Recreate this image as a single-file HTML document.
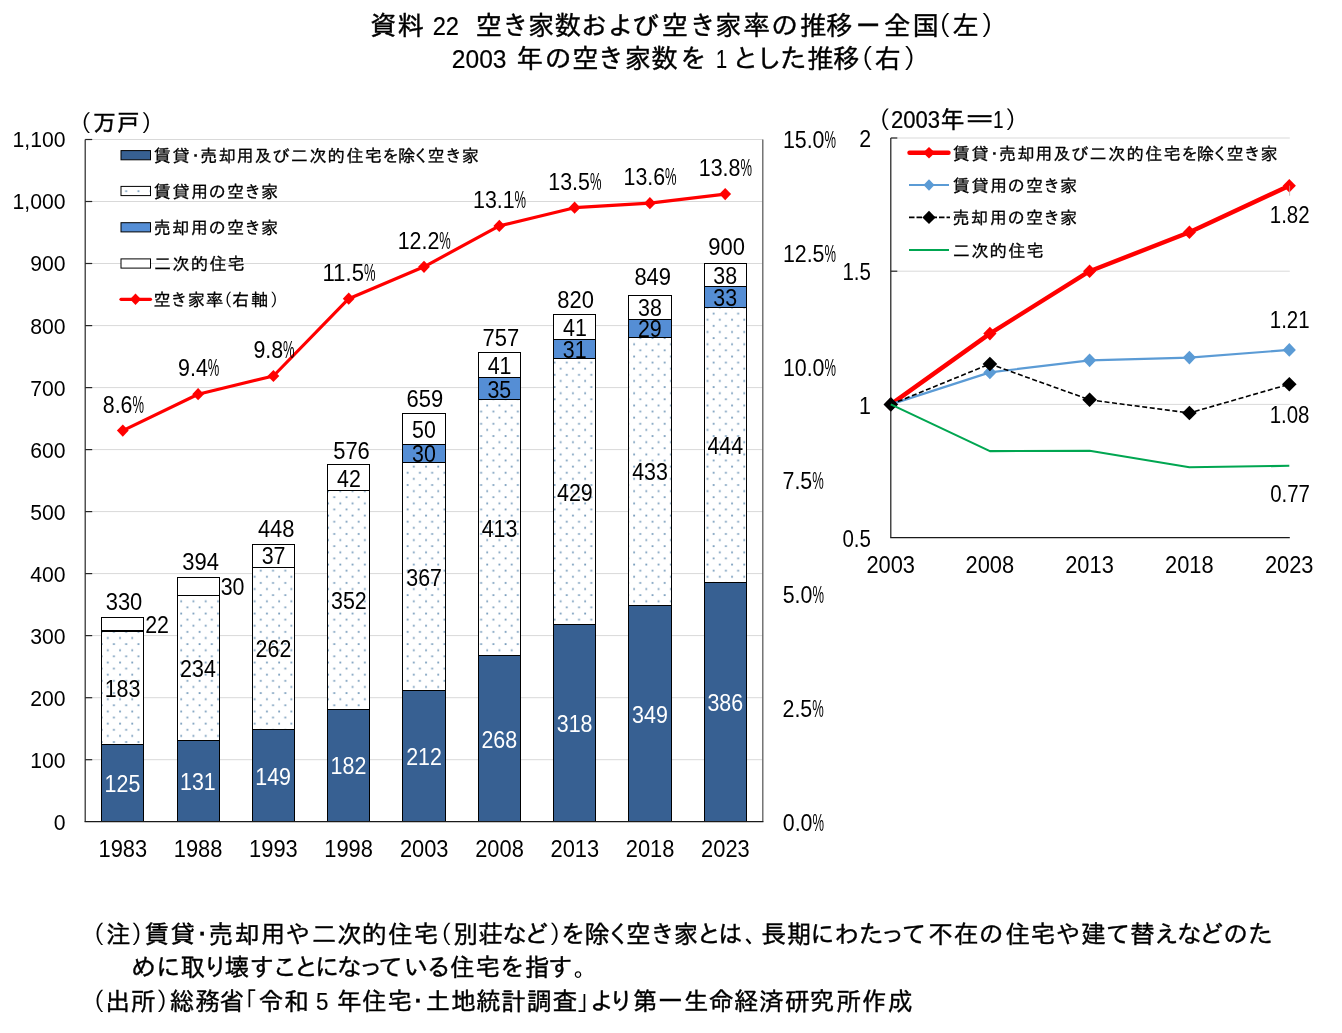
<!DOCTYPE html>
<html lang="ja"><head><meta charset="utf-8"><title>空き家数および空き家率の推移</title>
<style>html,body{margin:0;padding:0;background:#fff;overflow:hidden}svg{display:block}</style></head>
<body>
<svg width="1342" height="1033" viewBox="0 0 1342 1033" font-family='"Liberation Sans", "IPAGothic", "Noto Sans CJK JP", sans-serif' font-size="23">
<defs><pattern id="dots" width="12.24" height="12.24" patternUnits="userSpaceOnUse" x="8.83" y="0.02"><rect width="12.24" height="12.24" fill="#fff"/><rect x="0.15" y="0.6" width="1.8" height="1.8" fill="#7a9ebd"/><rect x="6.27" y="6.72" width="1.8" height="1.8" fill="#7a9ebd"/></pattern></defs>
<rect width="1342" height="1033" fill="#fff"/>
<g id="title">
<text y="34.7" font-size="26.7" stroke="#000" stroke-width="0.4"><tspan x="370 397.2">資料</tspan> <tspan x="432.7" font-size="25.5" stroke-width="0.20" textLength="26.3" lengthAdjust="spacingAndGlyphs">22</tspan> <tspan x="475.4 502 527.8 554.6 580.7 607.6 632.3 661.4 689.3 714.9 743.6 770.9 799.7 826">空き家数および空き家率の推移</tspan><tspan x="854.1" textLength="28.6" lengthAdjust="spacingAndGlyphs">－</tspan><tspan x="884.1 912.3">全国</tspan><tspan x="924.8" stroke="none">（</tspan><tspan x="952.5">左</tspan><tspan x="980.8" stroke="none">）</tspan></text>
<text y="67.6" font-size="26.7" stroke="#000" stroke-width="0.4"><tspan x="451.8" font-size="25.5" stroke-width="0.20" textLength="54.7" lengthAdjust="spacingAndGlyphs">2003</tspan> <tspan x="516.3 544.5 572 597.5 624.4 651.2 679.7">年の空き家数を</tspan> <tspan x="715.9" font-size="25.5" stroke-width="0.20" textLength="11.1" lengthAdjust="spacingAndGlyphs">1</tspan> <tspan x="732.3 755.6 780 806.9 833.1">とした推移</tspan><tspan x="847.3" stroke="none">（</tspan><tspan x="874.4">右</tspan><tspan x="903.3" stroke="none">）</tspan></text>
</g>
<g id="grid" stroke="#d9d9d9" stroke-width="1">
<line x1="85.2" x2="762.8" y1="759.7" y2="759.7"/>
<line x1="85.2" x2="762.8" y1="697.7" y2="697.7"/>
<line x1="85.2" x2="762.8" y1="635.6" y2="635.6"/>
<line x1="85.2" x2="762.8" y1="573.6" y2="573.6"/>
<line x1="85.2" x2="762.8" y1="511.6" y2="511.6"/>
<line x1="85.2" x2="762.8" y1="449.6" y2="449.6"/>
<line x1="85.2" x2="762.8" y1="387.6" y2="387.6"/>
<line x1="85.2" x2="762.8" y1="325.6" y2="325.6"/>
<line x1="85.2" x2="762.8" y1="263.5" y2="263.5"/>
<line x1="85.2" x2="762.8" y1="201.5" y2="201.5"/>
<line x1="85.2" x2="762.8" y1="139.5" y2="139.5"/>
</g>
<g id="bars" stroke="#000" stroke-width="1" shape-rendering="crispEdges">
<rect x="101.7" y="744.5" width="42.2" height="77.2" fill="#376092"/>
<rect x="101.7" y="631" width="42.2" height="113.5" fill="url(#dots)"/>
<rect x="101.7" y="617.3" width="42.2" height="13.6" fill="#fff"/>
<rect x="177" y="740.8" width="42.2" height="80.9" fill="#376092"/>
<rect x="177" y="595.6" width="42.2" height="145.1" fill="url(#dots)"/>
<rect x="177" y="577" width="42.2" height="18.6" fill="#fff"/>
<rect x="252.3" y="729.6" width="42.2" height="92.1" fill="#376092"/>
<rect x="252.3" y="567.1" width="42.2" height="162.5" fill="url(#dots)"/>
<rect x="252.3" y="544.2" width="42.2" height="22.9" fill="#fff"/>
<rect x="327.6" y="709.1" width="42.2" height="112.6" fill="#376092"/>
<rect x="327.6" y="490.8" width="42.2" height="218.3" fill="url(#dots)"/>
<rect x="327.6" y="464.8" width="42.2" height="26" fill="#fff"/>
<rect x="402.9" y="690.5" width="42.2" height="131.2" fill="#376092"/>
<rect x="402.9" y="462.9" width="42.2" height="227.6" fill="url(#dots)"/>
<rect x="402.9" y="444.3" width="42.2" height="18.6" fill="#558ed5"/>
<rect x="402.9" y="413.3" width="42.2" height="31" fill="#fff"/>
<rect x="478.2" y="655.8" width="42.2" height="165.9" fill="#376092"/>
<rect x="478.2" y="399.7" width="42.2" height="256.1" fill="url(#dots)"/>
<rect x="478.2" y="377.9" width="42.2" height="21.7" fill="#558ed5"/>
<rect x="478.2" y="352.5" width="42.2" height="25.4" fill="#fff"/>
<rect x="553.5" y="624.8" width="42.2" height="196.9" fill="#376092"/>
<rect x="553.5" y="358.7" width="42.2" height="266.1" fill="url(#dots)"/>
<rect x="553.5" y="339.5" width="42.2" height="19.2" fill="#558ed5"/>
<rect x="553.5" y="314.1" width="42.2" height="25.4" fill="#fff"/>
<rect x="628.8" y="605.6" width="42.2" height="216.1" fill="#376092"/>
<rect x="628.8" y="337" width="42.2" height="268.5" fill="url(#dots)"/>
<rect x="628.8" y="319" width="42.2" height="18" fill="#558ed5"/>
<rect x="628.8" y="295.5" width="42.2" height="23.6" fill="#fff"/>
<rect x="704.1" y="582.6" width="42.2" height="239.1" fill="#376092"/>
<rect x="704.1" y="307.2" width="42.2" height="275.4" fill="url(#dots)"/>
<rect x="704.1" y="286.8" width="42.2" height="20.5" fill="#558ed5"/>
<rect x="704.1" y="263.2" width="42.2" height="23.6" fill="#fff"/>
</g>
<g id="axes" fill="none">
<line x1="762.8" x2="762.8" y1="139.5" y2="821.7" stroke="#5e5e5e" stroke-width="1.3"/>
<line x1="85.2" x2="85.2" y1="139.5" y2="821.7" stroke="#262626" stroke-width="1.2"/>
<line x1="84.60000000000001" x2="763.4" y1="821.7" y2="821.7" stroke="#1a1a1a" stroke-width="1.3"/>
<line x1="85.2" x2="92.2" y1="759.7" y2="759.7" stroke="#262626" stroke-width="1.2"/>
<line x1="85.2" x2="92.2" y1="697.7" y2="697.7" stroke="#262626" stroke-width="1.2"/>
<line x1="85.2" x2="92.2" y1="635.6" y2="635.6" stroke="#262626" stroke-width="1.2"/>
<line x1="85.2" x2="92.2" y1="573.6" y2="573.6" stroke="#262626" stroke-width="1.2"/>
<line x1="85.2" x2="92.2" y1="511.6" y2="511.6" stroke="#262626" stroke-width="1.2"/>
<line x1="85.2" x2="92.2" y1="449.6" y2="449.6" stroke="#262626" stroke-width="1.2"/>
<line x1="85.2" x2="92.2" y1="387.6" y2="387.6" stroke="#262626" stroke-width="1.2"/>
<line x1="85.2" x2="92.2" y1="325.6" y2="325.6" stroke="#262626" stroke-width="1.2"/>
<line x1="85.2" x2="92.2" y1="263.5" y2="263.5" stroke="#262626" stroke-width="1.2"/>
<line x1="85.2" x2="92.2" y1="201.5" y2="201.5" stroke="#262626" stroke-width="1.2"/>
<line x1="85.2" x2="92.2" y1="139.5" y2="139.5" stroke="#262626" stroke-width="1.2"/>
</g>
<polyline fill="none" stroke="#f00" stroke-width="3.2" stroke-linejoin="round" points="122.8,430.6 198.1,394.2 273.4,376 348.7,298.7 424,266.8 499.3,225.9 574.6,207.7 649.9,203.2 725.2,194.1"/>
<path d="M122.8 424.5L128.7 430.6L122.8 436.7L116.9 430.6Z" fill="#f00"/>
<path d="M198.1 388.1L204 394.2L198.1 400.3L192.2 394.2Z" fill="#f00"/>
<path d="M273.4 369.9L279.3 376L273.4 382.1L267.5 376Z" fill="#f00"/>
<path d="M348.7 292.6L354.6 298.7L348.7 304.8L342.8 298.7Z" fill="#f00"/>
<path d="M424 260.7L429.9 266.8L424 272.9L418.1 266.8Z" fill="#f00"/>
<path d="M499.3 219.8L505.2 225.9L499.3 232L493.4 225.9Z" fill="#f00"/>
<path d="M574.6 201.6L580.5 207.7L574.6 213.8L568.7 207.7Z" fill="#f00"/>
<path d="M649.9 197.1L655.8 203.2L649.9 209.3L644 203.2Z" fill="#f00"/>
<path d="M725.2 188L731.1 194.1L725.2 200.2L719.3 194.1Z" fill="#f00"/>
<g id="ylab">
<text x="53.8" y="829.6" textLength="11.8" lengthAdjust="spacingAndGlyphs" font-size="21.5">0</text>
<text x="30.3" y="767.6" textLength="35.3" lengthAdjust="spacingAndGlyphs" font-size="21.5">100</text>
<text x="30.3" y="705.6" textLength="35.3" lengthAdjust="spacingAndGlyphs" font-size="21.5">200</text>
<text x="30.3" y="643.5" textLength="35.3" lengthAdjust="spacingAndGlyphs" font-size="21.5">300</text>
<text x="30.3" y="581.5" textLength="35.3" lengthAdjust="spacingAndGlyphs" font-size="21.5">400</text>
<text x="30.3" y="519.5" textLength="35.3" lengthAdjust="spacingAndGlyphs" font-size="21.5">500</text>
<text x="30.3" y="457.5" textLength="35.3" lengthAdjust="spacingAndGlyphs" font-size="21.5">600</text>
<text x="30.3" y="395.5" textLength="35.3" lengthAdjust="spacingAndGlyphs" font-size="21.5">700</text>
<text x="30.3" y="333.5" textLength="35.3" lengthAdjust="spacingAndGlyphs" font-size="21.5">800</text>
<text x="30.3" y="271.4" textLength="35.3" lengthAdjust="spacingAndGlyphs" font-size="21.5">900</text>
<text x="12.6" y="209.4" textLength="53" lengthAdjust="spacingAndGlyphs" font-size="21.5">1,000</text>
<text x="12.6" y="147.4" textLength="53" lengthAdjust="spacingAndGlyphs" font-size="21.5">1,100</text>
</g>
<g id="y2lab">
<text x="782.8" y="830.5"><tspan textLength="29.7" lengthAdjust="spacingAndGlyphs">0.0</tspan><tspan textLength="11.5" lengthAdjust="spacingAndGlyphs">%</tspan></text>
<text x="782.5" y="716.8"><tspan textLength="29.7" lengthAdjust="spacingAndGlyphs">2.5</tspan><tspan textLength="11.5" lengthAdjust="spacingAndGlyphs">%</tspan></text>
<text x="782.7" y="603.1"><tspan textLength="29.7" lengthAdjust="spacingAndGlyphs">5.0</tspan><tspan textLength="11.5" lengthAdjust="spacingAndGlyphs">%</tspan></text>
<text x="782.5" y="489.4"><tspan textLength="29.7" lengthAdjust="spacingAndGlyphs">7.5</tspan><tspan textLength="11.5" lengthAdjust="spacingAndGlyphs">%</tspan></text>
<text x="782.9" y="375.7"><tspan textLength="41.6" lengthAdjust="spacingAndGlyphs">10.0</tspan><tspan textLength="11.5" lengthAdjust="spacingAndGlyphs">%</tspan></text>
<text x="782.9" y="262"><tspan textLength="41.6" lengthAdjust="spacingAndGlyphs">12.5</tspan><tspan textLength="11.5" lengthAdjust="spacingAndGlyphs">%</tspan></text>
<text x="782.9" y="148.3"><tspan textLength="41.6" lengthAdjust="spacingAndGlyphs">15.0</tspan><tspan textLength="11.5" lengthAdjust="spacingAndGlyphs">%</tspan></text>
</g>
<g id="xlab">
<text x="98.5" y="856.9" textLength="48.6" lengthAdjust="spacingAndGlyphs">1983</text>
<text x="173.8" y="856.9" textLength="48.6" lengthAdjust="spacingAndGlyphs">1988</text>
<text x="249.1" y="856.9" textLength="48.6" lengthAdjust="spacingAndGlyphs">1993</text>
<text x="324.3" y="856.9" textLength="48.6" lengthAdjust="spacingAndGlyphs">1998</text>
<text x="399.9" y="856.9" textLength="48.6" lengthAdjust="spacingAndGlyphs">2003</text>
<text x="475.2" y="856.9" textLength="48.6" lengthAdjust="spacingAndGlyphs">2008</text>
<text x="550.5" y="856.9" textLength="48.6" lengthAdjust="spacingAndGlyphs">2013</text>
<text x="625.8" y="856.9" textLength="48.6" lengthAdjust="spacingAndGlyphs">2018</text>
<text x="701.1" y="856.9" textLength="48.6" lengthAdjust="spacingAndGlyphs">2023</text>
</g>
<g id="dlab">
<text x="104.6" y="792.1" textLength="35.7" lengthAdjust="spacingAndGlyphs" fill="#fff">125</text>
<text x="104.7" y="696.5" textLength="35.7" lengthAdjust="spacingAndGlyphs">183</text>
<text x="145.2" y="633" textLength="23.8" lengthAdjust="spacingAndGlyphs">22</text>
<text x="105.7" y="610.1" textLength="36.6" lengthAdjust="spacingAndGlyphs">330</text>
<text x="102.8" y="412.5"><tspan textLength="29.7" lengthAdjust="spacingAndGlyphs">8.6</tspan><tspan textLength="11.5" lengthAdjust="spacingAndGlyphs">%</tspan></text>
<text x="180" y="790.2" textLength="35.7" lengthAdjust="spacingAndGlyphs" fill="#fff">131</text>
<text x="180.1" y="677" textLength="35.7" lengthAdjust="spacingAndGlyphs">234</text>
<text x="220.7" y="595.1" textLength="23.8" lengthAdjust="spacingAndGlyphs">30</text>
<text x="182.3" y="570.1" textLength="36.6" lengthAdjust="spacingAndGlyphs">394</text>
<text x="178.1" y="376.1"><tspan textLength="29.7" lengthAdjust="spacingAndGlyphs">9.4</tspan><tspan textLength="11.5" lengthAdjust="spacingAndGlyphs">%</tspan></text>
<text x="255.3" y="784.6" textLength="35.7" lengthAdjust="spacingAndGlyphs" fill="#fff">149</text>
<text x="255.6" y="657.2" textLength="35.7" lengthAdjust="spacingAndGlyphs">262</text>
<text x="261.7" y="564.4" textLength="23.8" lengthAdjust="spacingAndGlyphs">37</text>
<text x="257.9" y="536.8" textLength="36.6" lengthAdjust="spacingAndGlyphs">448</text>
<text x="253.4" y="357.9"><tspan textLength="29.7" lengthAdjust="spacingAndGlyphs">9.8</tspan><tspan textLength="11.5" lengthAdjust="spacingAndGlyphs">%</tspan></text>
<text x="330.6" y="774.4" textLength="35.7" lengthAdjust="spacingAndGlyphs" fill="#fff">182</text>
<text x="331" y="608.8" textLength="35.7" lengthAdjust="spacingAndGlyphs">352</text>
<text x="337.1" y="486.6" textLength="23.8" lengthAdjust="spacingAndGlyphs">42</text>
<text x="333.2" y="458.9" textLength="36.6" lengthAdjust="spacingAndGlyphs">576</text>
<text x="322.4" y="280.6"><tspan textLength="41.6" lengthAdjust="spacingAndGlyphs">11.5</tspan><tspan textLength="11.5" lengthAdjust="spacingAndGlyphs">%</tspan></text>
<text x="406.2" y="765.1" textLength="35.7" lengthAdjust="spacingAndGlyphs" fill="#fff">212</text>
<text x="406.3" y="585.5" textLength="35.7" lengthAdjust="spacingAndGlyphs">367</text>
<text x="412.1" y="462.4" textLength="23.8" lengthAdjust="spacingAndGlyphs">30</text>
<text x="412.1" y="437.6" textLength="23.8" lengthAdjust="spacingAndGlyphs">50</text>
<text x="406.6" y="407.1" textLength="36.6" lengthAdjust="spacingAndGlyphs">659</text>
<text x="397.7" y="248.8"><tspan textLength="41.6" lengthAdjust="spacingAndGlyphs">12.2</tspan><tspan textLength="11.5" lengthAdjust="spacingAndGlyphs">%</tspan></text>
<text x="481.4" y="747.7" textLength="35.7" lengthAdjust="spacingAndGlyphs" fill="#fff">268</text>
<text x="481.7" y="536.5" textLength="35.7" lengthAdjust="spacingAndGlyphs">413</text>
<text x="487.4" y="397.6" textLength="23.8" lengthAdjust="spacingAndGlyphs">35</text>
<text x="487.7" y="374" textLength="23.8" lengthAdjust="spacingAndGlyphs">41</text>
<text x="482.5" y="345.8" textLength="36.6" lengthAdjust="spacingAndGlyphs">757</text>
<text x="473" y="207.8"><tspan textLength="41.6" lengthAdjust="spacingAndGlyphs">13.1</tspan><tspan textLength="11.5" lengthAdjust="spacingAndGlyphs">%</tspan></text>
<text x="556.8" y="732.2" textLength="35.7" lengthAdjust="spacingAndGlyphs" fill="#fff">318</text>
<text x="557" y="500.6" textLength="35.7" lengthAdjust="spacingAndGlyphs">429</text>
<text x="562.8" y="357.9" textLength="23.8" lengthAdjust="spacingAndGlyphs">31</text>
<text x="563" y="335.6" textLength="23.8" lengthAdjust="spacingAndGlyphs">41</text>
<text x="557.3" y="307.5" textLength="36.6" lengthAdjust="spacingAndGlyphs">820</text>
<text x="548.3" y="189.6"><tspan textLength="41.6" lengthAdjust="spacingAndGlyphs">13.5</tspan><tspan textLength="11.5" lengthAdjust="spacingAndGlyphs">%</tspan></text>
<text x="632.1" y="722.6" textLength="35.7" lengthAdjust="spacingAndGlyphs" fill="#fff">349</text>
<text x="632.2" y="480.1" textLength="35.7" lengthAdjust="spacingAndGlyphs">433</text>
<text x="637.9" y="336.8" textLength="23.8" lengthAdjust="spacingAndGlyphs">29</text>
<text x="638" y="316.1" textLength="23.8" lengthAdjust="spacingAndGlyphs">38</text>
<text x="634.4" y="284.6" textLength="36.6" lengthAdjust="spacingAndGlyphs">849</text>
<text x="623.5" y="185.1"><tspan textLength="41.6" lengthAdjust="spacingAndGlyphs">13.6</tspan><tspan textLength="11.5" lengthAdjust="spacingAndGlyphs">%</tspan></text>
<text x="707.4" y="711.1" textLength="35.7" lengthAdjust="spacingAndGlyphs" fill="#fff">386</text>
<text x="707.4" y="453.7" textLength="35.7" lengthAdjust="spacingAndGlyphs">444</text>
<text x="713.3" y="305.8" textLength="23.8" lengthAdjust="spacingAndGlyphs">33</text>
<text x="713.3" y="283.8" textLength="23.8" lengthAdjust="spacingAndGlyphs">38</text>
<text x="708.3" y="255" textLength="36.6" lengthAdjust="spacingAndGlyphs">900</text>
<text x="698.8" y="176"><tspan textLength="41.6" lengthAdjust="spacingAndGlyphs">13.8</tspan><tspan textLength="11.5" lengthAdjust="spacingAndGlyphs">%</tspan></text>
</g>
<g id="legL">
<rect x="121" y="150.6" width="29.5" height="9.2" fill="#376092" stroke="#000" stroke-width="1"/>
<rect x="121" y="186.4" width="29.5" height="9.2" fill="url(#dots)" stroke="#000" stroke-width="1"/>
<rect x="121" y="222.7" width="29.5" height="9.2" fill="#558ed5" stroke="#000" stroke-width="1"/>
<rect x="121" y="258.9" width="29.5" height="9.2" fill="#fff" stroke="#000" stroke-width="1"/>
<line x1="121" x2="150.5" y1="299.3" y2="299.3" stroke="#f00" stroke-width="3.2" stroke-linecap="round"/>
<path d="M135.5 293.5L141 299.3L135.5 305.1L130 299.3Z" fill="#f00"/>
<text y="161.9" font-size="17.2" stroke="#000" stroke-width="0.3"><tspan x="153.8 172.5 186.9 199.9 218.7 236.4 254.4 272.4 290.7 309.4 327.6 346.4 364.7 382.1 397.9 412.6 427.5 444.7 461.7">賃貸・売却用及び二次的住宅を除く空き家</tspan></text>
<text y="197.7" font-size="17.2" stroke="#000" stroke-width="0.3"><tspan x="153.8 172.5 191 208.6 227 244.1 261.1">賃貸用の空き家</tspan></text>
<text y="234" font-size="17.2" stroke="#000" stroke-width="0.3"><tspan x="153.4 172.2 190.8 208.6 227 244.1 261.1">売却用の空き家</tspan></text>
<text y="270.2" font-size="17.2" stroke="#000" stroke-width="0.3"><tspan x="153.9 172.5 190.7 209.4 227.6">二次的住宅</tspan></text>
<text y="306" font-size="17.2" stroke="#000" stroke-width="0.3"><tspan x="153.6 170.3 187.7 206.1">空き家率</tspan><tspan x="215.3" stroke="none">（</tspan><tspan x="232 251">右軸</tspan><tspan x="270.1" stroke="none">）</tspan></text>
<text y="130.6" font-size="23.2" stroke="#000" stroke-width="0.5"><tspan x="68.4" stroke="none">（</tspan><tspan x="92.7 116.8">万戸</tspan><tspan x="140.9" stroke="none">）</tspan></text>
</g>
<g id="gridR" stroke="#d9d9d9" stroke-width="1">
<line x1="890.8" x2="1289.8" y1="404.4" y2="404.4"/>
<line x1="890.8" x2="1289.8" y1="271.2" y2="271.2"/>
<line x1="890.8" x2="1289.8" y1="138" y2="138"/>
</g>
<line x1="890.8" x2="890.8" y1="138.0" y2="537.6" stroke="#1a1a1a" stroke-width="1.2"/>
<line x1="890.1999999999999" x2="1289.8" y1="537.6" y2="537.6" stroke="#1a1a1a" stroke-width="1.3"/>
<line x1="890.8" x2="897.3" y1="404.4" y2="404.4" stroke="#262626" stroke-width="1.2"/>
<line x1="890.8" x2="897.3" y1="271.2" y2="271.2" stroke="#262626" stroke-width="1.2"/>
<line x1="890.8" x2="897.3" y1="138" y2="138" stroke="#262626" stroke-width="1.2"/>
<polyline fill="none" stroke="#f00" stroke-width="4.4" stroke-linejoin="round" points="890.8,404.4 989.9,333.6 1089.6,271.2 1189.4,232.3 1289.3,185.7"/>
<path d="M890.8 397.6L897.4 404.4L890.8 411.2L884.2 404.4Z" fill="#f00"/>
<path d="M989.9 326.8L996.5 333.6L989.9 340.4L983.3 333.6Z" fill="#f00"/>
<path d="M1089.6 264.4L1096.2 271.2L1089.6 278L1083 271.2Z" fill="#f00"/>
<path d="M1189.4 225.5L1196 232.3L1189.4 239.1L1182.8 232.3Z" fill="#f00"/>
<path d="M1289.3 178.9L1295.9 185.7L1289.3 192.5L1282.7 185.7Z" fill="#f00"/>
<line x1="1289.6" x2="1289.6" y1="185.7" y2="195.7" stroke="#bfa6a6" stroke-width="0.8"/>
<polyline fill="none" stroke="#5b9bd5" stroke-width="2.2" stroke-linejoin="round" points="890.8,404.4 989.9,372.4 1089.6,360.3 1189.4,357.6 1289.3,349.9"/>
<path d="M890.8 397.5L897.4 404.4L890.8 411.3L884.2 404.4Z" fill="#5b9bd5"/>
<path d="M989.9 365.5L996.5 372.4L989.9 379.3L983.3 372.4Z" fill="#5b9bd5"/>
<path d="M1089.6 353.4L1096.2 360.3L1089.6 367.2L1083 360.3Z" fill="#5b9bd5"/>
<path d="M1189.4 350.7L1196 357.6L1189.4 364.5L1182.8 357.6Z" fill="#5b9bd5"/>
<path d="M1289.3 343L1295.9 349.9L1289.3 356.8L1282.7 349.9Z" fill="#5b9bd5"/>
<polyline fill="none" stroke="#000" stroke-width="1.6" stroke-linejoin="round" stroke-dasharray="5 2.6" points="890.8,404.4 989.9,364 1089.6,399.8 1189.4,413 1289.3,384.2"/>
<path d="M890.8 397.1L898.1 404.4L890.8 411.7L883.5 404.4Z" fill="#000"/>
<path d="M989.9 356.7L997.2 364L989.9 371.3L982.6 364Z" fill="#000"/>
<path d="M1089.6 392.5L1096.9 399.8L1089.6 407.1L1082.3 399.8Z" fill="#000"/>
<path d="M1189.4 405.7L1196.7 413L1189.4 420.3L1182.1 413Z" fill="#000"/>
<path d="M1289.3 376.9L1296.6 384.2L1289.3 391.5L1282 384.2Z" fill="#000"/>
<polyline fill="none" stroke="#00a651" stroke-width="2.1" stroke-linejoin="round" points="890.8,404.4 989.9,451.1 1089.6,450.8 1189.4,467.3 1289.3,465.8"/>
<g id="rlab">
<text x="842.4" y="546.7" textLength="28.5" lengthAdjust="spacingAndGlyphs">0.5</text>
<text x="859.1" y="413.5" textLength="11.9" lengthAdjust="spacingAndGlyphs">1</text>
<text x="842.4" y="280.3" textLength="28.5" lengthAdjust="spacingAndGlyphs">1.5</text>
<text x="859.2" y="147.1" textLength="11.9" lengthAdjust="spacingAndGlyphs">2</text>
<text x="866.4" y="573.4" textLength="48.6" lengthAdjust="spacingAndGlyphs">2003</text>
<text x="965.5" y="573.4" textLength="48.6" lengthAdjust="spacingAndGlyphs">2008</text>
<text x="1065.2" y="573.4" textLength="48.6" lengthAdjust="spacingAndGlyphs">2013</text>
<text x="1165" y="573.4" textLength="48.6" lengthAdjust="spacingAndGlyphs">2018</text>
<text x="1264.9" y="573.4" textLength="48.6" lengthAdjust="spacingAndGlyphs">2023</text>
<text x="1269.8" y="223.3" textLength="39.8" lengthAdjust="spacingAndGlyphs">1.82</text>
<text x="1269.8" y="327.8" textLength="39.8" lengthAdjust="spacingAndGlyphs">1.21</text>
<text x="1269.7" y="422.6" textLength="39.8" lengthAdjust="spacingAndGlyphs">1.08</text>
<text x="1270.2" y="501.9" textLength="39.8" lengthAdjust="spacingAndGlyphs">0.77</text>
</g>
<g id="legR">
<line x1="909.5" x2="948.5" y1="152.8" y2="152.8" stroke="#f00" stroke-width="4.4" stroke-linecap="round"/>
<path d="M929 147L935 152.8L929 158.6L923 152.8Z" fill="#f00"/>
<line x1="909" x2="949" y1="185.0" y2="185.0" stroke="#5b9bd5" stroke-width="2.2"/>
<path d="M929 179.2L934.5 185L929 190.8L923.5 185Z" fill="#5b9bd5"/>
<line x1="909" x2="950" y1="217.4" y2="217.4" stroke="#000" stroke-width="1.9" stroke-dasharray="5.5 2"/>
<path d="M929 210.8L935.6 217.4L929 224L922.4 217.4Z" fill="#000"/>
<line x1="909" x2="949" y1="250.0" y2="250.0" stroke="#00a651" stroke-width="2.2"/>
<text y="159.7" font-size="17.2" stroke="#000" stroke-width="0.3"><tspan x="952.7 971.4 985.8 998.8 1017.6 1035.3 1053.3 1071.3 1089.6 1108.3 1126.5 1145.3 1163.6 1181 1196.8 1211.5 1226.4 1243.6 1260.6">賃貸・売却用及び二次的住宅を除く空き家</tspan></text>
<text y="191.9" font-size="17.2" stroke="#000" stroke-width="0.3"><tspan x="952.7 971.4 989.9 1007.5 1025.9 1043 1060">賃貸用の空き家</tspan></text>
<text y="224.3" font-size="17.2" stroke="#000" stroke-width="0.3"><tspan x="952.3 971.1 989.7 1007.5 1025.9 1043 1060">売却用の空き家</tspan></text>
<text y="256.9" font-size="17.2" stroke="#000" stroke-width="0.3"><tspan x="952.8 971.4 989.6 1008.3 1026.5">二次的住宅</tspan></text>
<text y="127.7" font-size="24" stroke="#000" stroke-width="0.45"><tspan x="866.4" stroke="none">（</tspan><tspan x="890.9" font-size="23.5" stroke-width="0.23" textLength="49.1" lengthAdjust="spacingAndGlyphs">2003</tspan><tspan x="940.2">年</tspan><tspan x="962.7" textLength="33.7" lengthAdjust="spacingAndGlyphs">＝</tspan><tspan x="993.3" font-size="23.5" stroke-width="0.23" textLength="10.2" lengthAdjust="spacingAndGlyphs">1</tspan><tspan x="1005.1" stroke="none">）</tspan></text>
</g>
<g id="notes">
<text y="942.8" font-size="24.8" stroke="#000" stroke-width="0.38"><tspan x="80.3" stroke="none">（</tspan><tspan x="106">注</tspan><tspan x="130.8" stroke="none">）</tspan><tspan x="144.5 170.2 189.7 208.6 234.8 260.6 285.4 311.7 337.1 361.7 388.1 413.4">賃貸・売却用や二次的住宅</tspan><tspan x="427.4" stroke="none">（</tspan><tspan x="453 478.2 502.1 523.7">別荘など</tspan><tspan x="549" stroke="none">）</tspan><tspan x="560.5 584.4 606 626.1 649.9 673.8 696.6 717.9">を除く空き家とは</tspan><tspan x="744.4" stroke="none">、</tspan><tspan x="761.4 787 810.3 834.6 859.1 880.3 901.7 928.2 953.7 978.7 1005.5 1030.6 1055.7 1081.1 1105.7 1130.1 1154.5 1176.8 1198.8 1223.2 1248.3">長期にわたって不在の住宅や建て替えなどのた</tspan></text>
<text y="976.2" font-size="24.8" stroke="#000" stroke-width="0.38"><tspan x="131.2 156.1 180.3 203.3 224.7 249.5 272.5 293.5 314.7 336.8 358.6 378.2 403.7 426.2 450.1 475.3 499.7 524.4 547.9">めに取り壊すことになっている住宅を指す</tspan><tspan x="573.6" stroke="none">。</tspan></text>
<text y="1009.6" font-size="24.8" stroke="#000" stroke-width="0.38"><tspan x="80.3" stroke="none">（</tspan><tspan x="105.3 130.8">出所</tspan><tspan x="155.9" stroke="none">）</tspan><tspan x="169.4 195.3 219.2">総務省</tspan><tspan x="232.5" stroke="none">「</tspan><tspan x="258.7 283.8">令和</tspan> <tspan x="316" font-size="24" stroke-width="0.19" textLength="12.4" lengthAdjust="spacingAndGlyphs">5</tspan> <tspan x="336.4 361.9 387.2 405.5 425.6 450.7 475.9 501.1 527 552.7">年住宅・土地統計調査</tspan><tspan x="576.4" stroke="none">」</tspan><tspan x="589.7 608.9 632.6 658.1 683.7 708.8 734.1 758.9 785 809.6 836.3 861.8 887.9">より第一生命経済研究所作成</tspan></text>
</g>
</svg>
</body></html>
